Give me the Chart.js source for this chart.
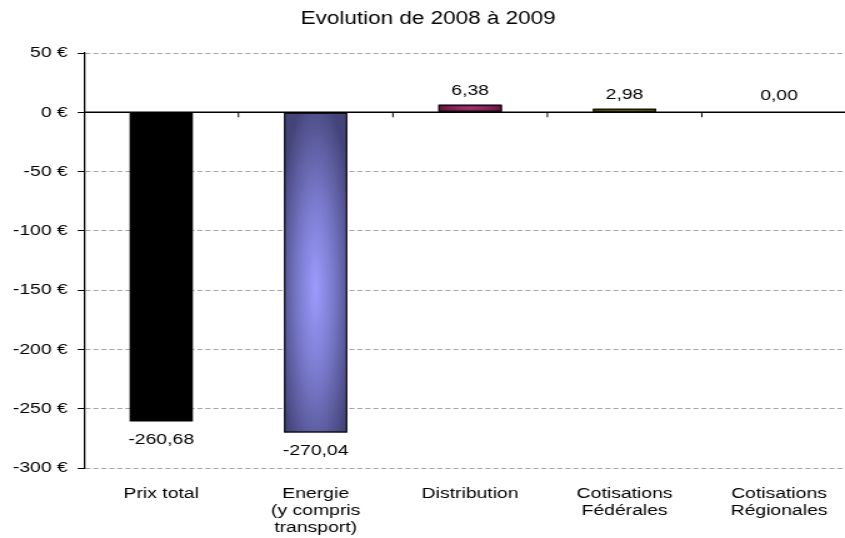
<!DOCTYPE html>
<html><head><meta charset="utf-8">
<script src="https://cdn.jsdelivr.net/npm/chart.js@4/dist/chart.umd.min.js"></script>
<style>
html,body{margin:0;padding:0;background:#fff;overflow:hidden;width:845px;height:538px}
#wrap{position:absolute;left:0;top:0;width:688px;height:538px;transform:scaleX(1.25);transform-origin:0 0}
#c{display:block}
</style></head><body>
<div id="wrap"><canvas id="c" width="688" height="538"></canvas></div>
<script>
// ---- data ----
const categories = [['Prix total'], ['Energie', '(y compris', 'transport)'], ['Distribution'], ['Cotisations', 'Fédérales'], ['Cotisations', 'Régionales']];
const values = [-260.68, -270.04, 6.38, 2.98, 0.00];
const yTicks = [50, 0, -50, -100, -150, -200, -250, -300];
const chartTitle = 'Evolution de 2008 à 2009';

// ---- styles ----
const FONT = 'Liberation Sans, Arial, sans-serif';
const barFill = ['#000000', '#6a6ab0', '#7a2050', '#7a7a18', '#888888'];
const barShading = [
  null,
  {cy: 0.55, stops: [[0, '#9c9cff'], [0.45, '#7a7acc'], [1, '#44447a']]},
  {cy: 0.5, stops: [[0, '#a8376e'], [0.6, '#7a2050'], [1, '#4a1030']]},
  {cy: 0.5, stops: [[0, '#9a9a26'], [0.6, '#7a7a18'], [1, '#4e4e0c']]},
  null
];

const overlay = {
  id: 'overlay',
  afterDatasetsDraw(chart) {
    const ctx = chart.ctx;
    const meta = chart.getDatasetMeta(0);
    const xs = chart.scales.x, ys = chart.scales.y;
    const area = chart.chartArea;
    const y0 = ys.getPixelForValue(0);
    // shaded bars
    meta.data.forEach((el, i) => {
      const g = barShading[i];
      if (!g) return;
      const p = el.getProps(['x', 'y', 'base', 'width'], true);
      const left = p.x - p.width / 2;
      const top = Math.min(p.y, p.base);
      const h = Math.abs(p.base - p.y);
      if (h < 0.5) return;
      ctx.save();
      ctx.beginPath();
      ctx.rect(left, top, p.width, h);
      ctx.clip();
      ctx.translate(p.x, top + h * g.cy);
      const rx = p.width * 0.62, ry = Math.max(h * 0.62, 0.5);
      ctx.scale(1, ry / rx);
      const grad = ctx.createRadialGradient(0, 0, 0, 0, 0, rx);
      g.stops.forEach(s => grad.addColorStop(s[0], s[1]));
      ctx.fillStyle = grad;
      ctx.fillRect(-p.width, -rx * 4, p.width * 2, rx * 8);
      ctx.restore();
      ctx.save();
      ctx.strokeStyle = '#111';
      ctx.lineWidth = 1.2;
      ctx.strokeRect(left + 0.6, top + 0.6, p.width - 1.2, h - 1.2);
      ctx.restore();
    });
    // zero axis line
    ctx.save();
    ctx.strokeStyle = '#000';
    ctx.lineWidth = 1.4;
    ctx.beginPath();
    ctx.moveTo(area.left, y0);
    ctx.lineTo(area.right, y0);
    ctx.stroke();
    // category tick marks
    const half = (xs.getPixelForValue(1) - xs.getPixelForValue(0)) / 2;
    ctx.lineWidth = 1;
    for (let i = 0; i < categories.length; i++) {
      const tx = xs.getPixelForValue(i) + half;
      ctx.beginPath();
      ctx.moveTo(tx, y0);
      ctx.lineTo(tx, y0 + 5);
      ctx.stroke();
    }
    // data labels
    ctx.fillStyle = '#000';
    ctx.font = '15.5px ' + FONT;
    ctx.textAlign = 'center';
    ctx.textBaseline = 'middle';
    meta.data.forEach((el, i) => {
      const v = values[i];
      const p = el.getProps(['x', 'y'], true);
      const ty = v < 0 ? p.y + 18 : p.y - 14 - (v === 0 ? 3 : 0);
      ctx.fillText(v.toFixed(2).replace('.', ','), p.x, ty);
    });
    ctx.restore();
  }
};

new Chart(document.getElementById('c'), {
  type: 'bar',
  data: {
    labels: categories,
    datasets: [{
      data: values,
      backgroundColor: barFill,
      borderWidth: 0,
      barPercentage: 0.41,
      categoryPercentage: 1
    }]
  },
  options: {
    responsive: false,
    animation: false,
    events: [],
    layout: {padding: {left: 0, right: 3, top: 0, bottom: 0}},
    plugins: {
      legend: {display: false},
      tooltip: {enabled: false},
      title: {
        display: true,
        text: chartTitle,
        color: '#000',
        font: {family: FONT, size: 18, weight: 'normal'},
        padding: {top: 8, bottom: 23.4}
      }
    },
    scales: {
      x: {
        offset: true,
        grid: {display: false, drawTicks: false},
        border: {display: false},
        ticks: {
          color: '#000',
          font: {family: FONT, size: 15.5, lineHeight: 1.1},
          padding: 17,
          maxRotation: 0,
          autoSkip: false
        },
        afterFit: s => { s.height = 70; }
      },
      y: {
        min: -300,
        max: 50,
        afterBuildTicks: s => { s.ticks = yTicks.map(v => ({value: v})); },
        ticks: {
          color: '#000',
          font: {family: FONT, size: 15.5},
          padding: 8,
          callback: v => v + ' €'
        },
        grid: {
          color: c => (c.tick && c.tick.value === 0) ? 'rgba(0,0,0,0)' : '#a3a3a3',
          lineWidth: 1,
          tickColor: '#000',
          tickLength: 5,
          tickBorderDash: [],
          drawTicks: true
        },
        border: {display: true, color: '#000', width: 1.3, dash: [4, 2.4]},
        afterFit: s => { s.width = 67.2; }
      }
    }
  },
  plugins: [overlay]
});
</script>
</body></html>
